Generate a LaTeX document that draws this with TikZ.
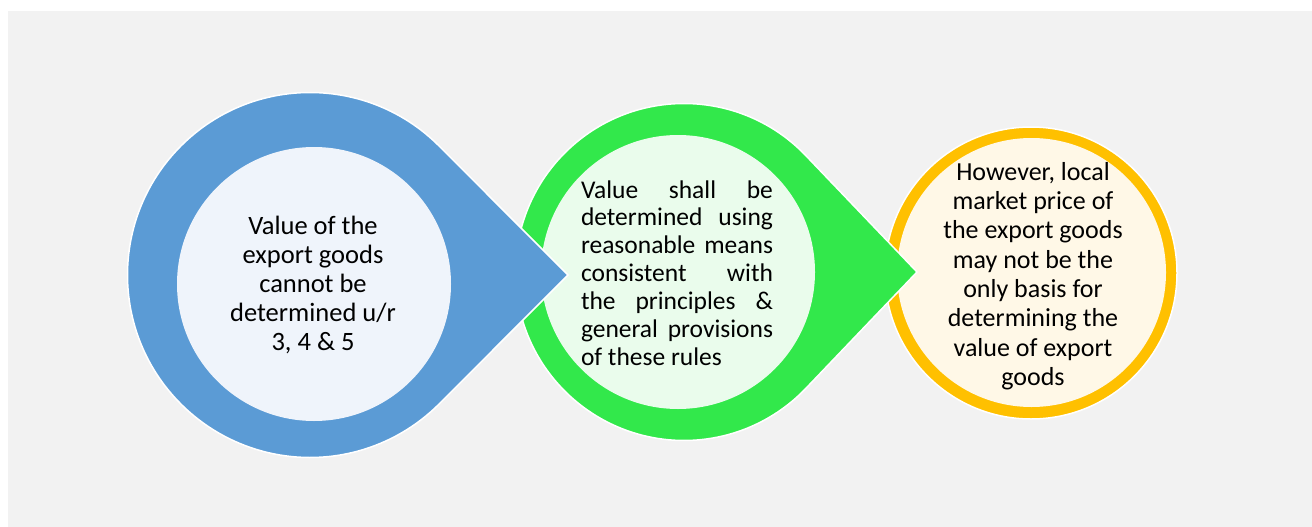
\documentclass[tikz,border=0pt]{standalone}
\usepackage{fontspec}
\setmainfont{Carlito}
\definecolor{bggray}{HTML}{F2F2F2}
\definecolor{ringblue}{HTML}{5B9BD5}
\definecolor{inblue}{HTML}{EFF4FB}
\definecolor{ringgreen}{HTML}{32E84B}
\definecolor{ingreen}{HTML}{EAFCEC}
\definecolor{ringorange}{HTML}{FFC000}
\definecolor{inyellow}{HTML}{FFF8E7}
\newcommand\mydrop[5]{%
  \pgfmathsetmacro\dropang{acos(#3/#4)}%
  \draw[white, line width=1.5pt, fill=#5, line join=miter]
    (#1+#4,#2) -- ({#1+#3*cos(\dropang)},{#2-#3*sin(\dropang)})
    arc[start angle=\dropang, end angle=360-\dropang, radius=#3pt] -- cycle;}
\begin{document}
\begin{tikzpicture}[x=1pt,y=-1pt,
  txt/.style={text=black, inner sep=0pt},
  ring/.style={draw=white, line width=1.5pt}]
\useasboundingbox (0,0) rectangle (1312,527);
\fill[bggray] (8,11) rectangle (1312,527);
% yellow circle
\coordinate (cY) at (1031,273);
\fill[ring, fill=ringorange] (cY) circle[radius=146pt];
\fill[inyellow] (1031.5,272.5) circle[radius=134.5pt];
% green drop
\mydrop{684}{272}{168.5}{233}{ringgreen}
\fill[ingreen] (678,272) circle[radius=137pt];
% blue drop
\mydrop{310}{275}{182.5}{258}{ringblue}
\fill[inblue] (314,284) circle[radius=137pt];
% texts
\node[txt, align=center, font=\fontsize{26.5}{29}\selectfont] (t1) at (313,285)
  {Value of the\\export goods\\cannot be\\determined u/r\\3, 4 \& 5};
\node[txt, align=left, font=\fontsize{25.5}{27.9}\selectfont] (t2) at (677,273)
  {\makebox[192pt][s]{Value shall be}\\
   \makebox[192pt][s]{determined using}\\
   \makebox[192pt][s]{reasonable means}\\
   \makebox[192pt][s]{consistent with}\\
   \makebox[192pt][s]{the principles \&}\\
   \makebox[192pt][s]{general provisions}\\
   of these rules};
\node[txt, align=center, font=\fontsize{26}{29.3}\selectfont] (t3) at (1033,276)
  {However, local\\market price of\\the export goods\\may not be the\\only basis for\\determining the\\value of export\\goods};
\end{tikzpicture}
\end{document}
